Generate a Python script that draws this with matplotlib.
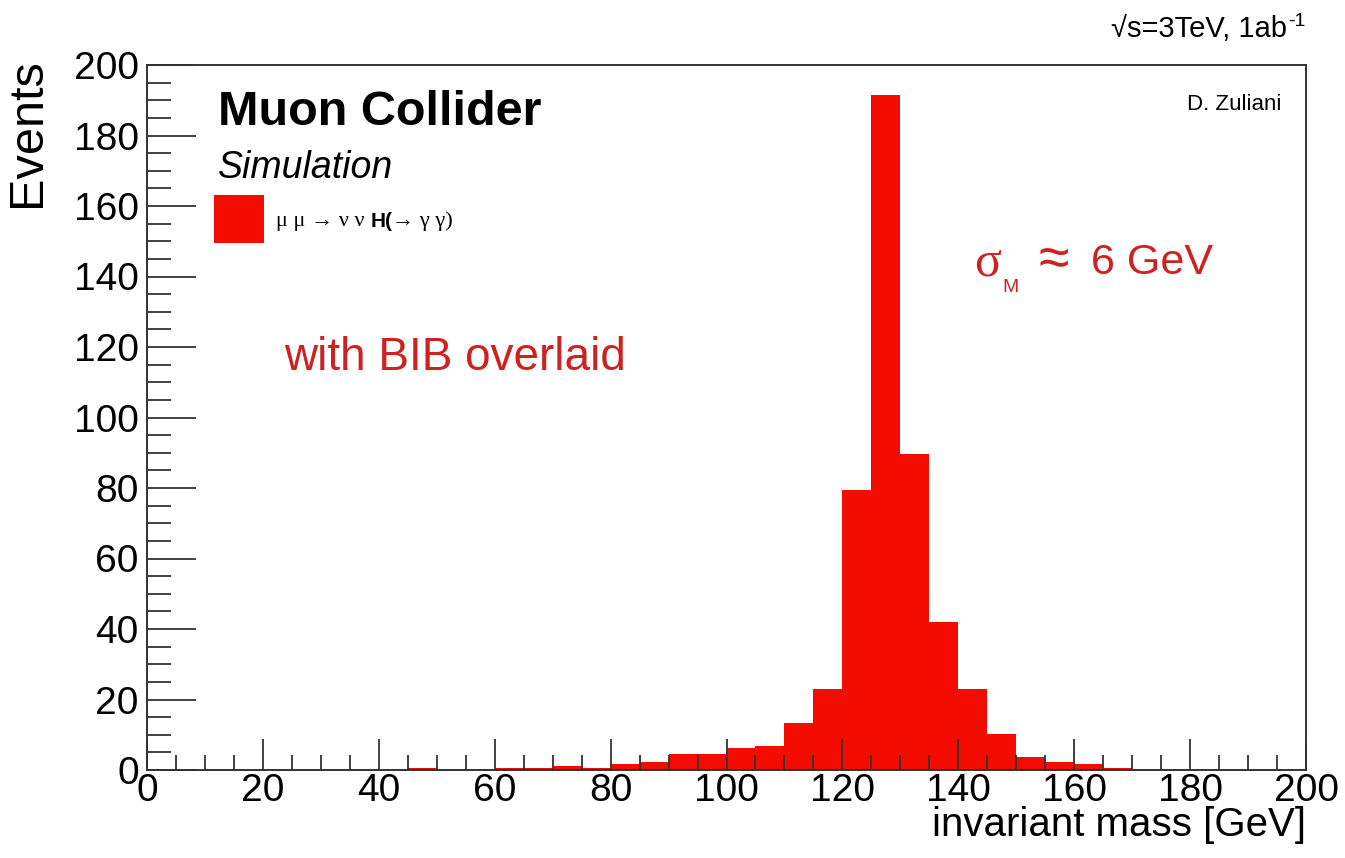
import numpy as np
import matplotlib
matplotlib.use("Agg")
import matplotlib.pyplot as plt
from matplotlib.ticker import MultipleLocator

# 5 GeV bins from 0 to 200 GeV
edges = np.arange(0, 205, 5)
events = [0, 0, 0, 0, 0, 0, 0, 0, 0, 0.6,
          0, 0, 0.5, 0.5, 1.0, 0.5, 1.6, 2.4, 4.6, 4.6,
          6.3, 6.8, 13.4, 23.0, 79.5, 191.5, 89.7, 42.0, 23.0, 10.2,
          3.8, 2.2, 1.8, 0.6, 0, 0, 0, 0, 0, 0]

RED = "#f50c00"
TXT_RED = "#cc2222"
SANS = ["Liberation Sans", "DejaVu Sans"]
SERIF = ["Liberation Serif", "DejaVu Serif"]
W, H = 1345, 858

plt.rcParams["font.family"] = SANS

fig = plt.figure(figsize=(W / 100, H / 100), dpi=100)
ax = fig.add_axes([147 / W, 88 / H, 1159 / W, 705 / H])


def px(x, y):
    # pixel position (from top-left) -> figure fraction
    return x / W, (H - y) / H


ax.stairs(events, edges, fill=True, color=RED, lw=0)
ax.set_xlim(0, 200)
ax.set_ylim(0, 200)

for s in ax.spines.values():
    s.set_linewidth(1.4)
    s.set_color("#333333")

ax.xaxis.set_major_locator(MultipleLocator(20))
ax.xaxis.set_minor_locator(MultipleLocator(5))
ax.yaxis.set_major_locator(MultipleLocator(20))
ax.yaxis.set_minor_locator(MultipleLocator(5))
ax.tick_params(axis="x", which="major", direction="in", length=22, width=1.3,
               labelsize=28, pad=2, color="#333333")
ax.tick_params(axis="x", which="minor", direction="in", length=11, width=1.3, color="#333333")
ax.tick_params(axis="y", which="major", direction="in", length=35, width=1.3,
               labelsize=28, pad=6, color="#333333")
ax.tick_params(axis="y", which="minor", direction="in", length=17, width=1.3, color="#333333")

ax.set_xlabel("invariant mass [GeV]", fontsize=29, loc="right", labelpad=-2)
fig.text(*px(28, 58), "Events", fontsize=35, rotation=90, ha="center", va="top")

# labels inside the frame
fig.text(*px(218, 125), "Muon Collider", fontsize=35, weight="bold", va="baseline")
fig.text(*px(218, 178), "Simulation", fontsize=27, style="italic", va="baseline")
ax.add_patch(plt.Rectangle(px(214, 243), 50 / W, 48 / H, transform=fig.transFigure,
                           color=RED, lw=0))
t1 = fig.text(*px(276, 226), "μ μ → ν ν ", fontsize=16, family=SERIF, va="baseline")
t2 = ax.annotate("H(", xy=(1, 0), xycoords=t1, fontsize=15, weight="bold", va="bottom")
ax.annotate("→ γ γ)", xy=(1, 0), xycoords=t2, fontsize=16, family=SERIF, va="bottom")

fig.text(*px(284, 370), "with BIB overlaid", fontsize=33, color=TXT_RED, va="baseline")

fig.text(*px(974, 276), "σ", fontsize=36, family=SERIF, color=TXT_RED, va="baseline")
fig.text(*px(1002, 292), "M", fontsize=14, color=TXT_RED, va="baseline")
fig.text(*px(1038, 262), "≈", fontsize=40, color=TXT_RED, va="center", family=SANS)
fig.text(*px(1091, 274), "6 GeV", fontsize=31, color=TXT_RED, va="baseline")

fig.text(*px(1281, 110), "D. Zuliani", fontsize=16, ha="right", va="baseline")

# top-right energy / luminosity label
fig.text(*px(1287, 37), "√s=3TeV, 1ab", fontsize=21, ha="right", va="baseline", family=SANS)
fig.text(*px(1288, 26), "-1", fontsize=14, ha="left", va="baseline")

fig.savefig("out.png", dpi=100)
